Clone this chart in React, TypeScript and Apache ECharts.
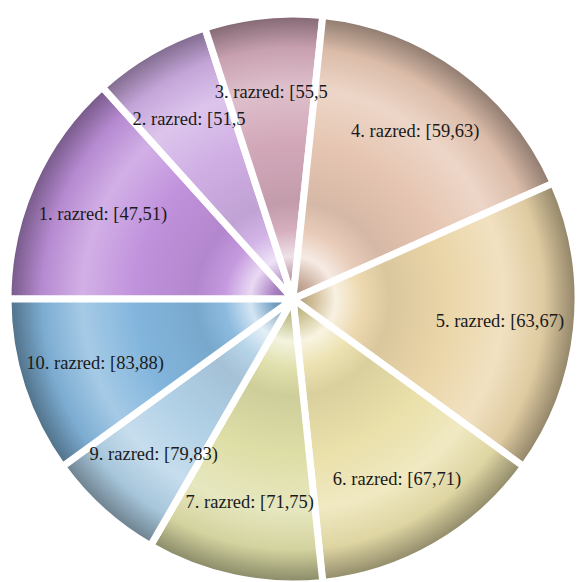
import React, { useEffect, useRef } from 'react';
import * as echarts from 'echarts';

const classLabels = [
  '1. razred: [47,51)',
  '2. razred: [51,55)',
  '3. razred: [55,59)',
  '4. razred: [59,63)',
  '5. razred: [63,67)',
  '6. razred: [67,71)',
  '7. razred: [71,75)',
  '8. razred: [75,79)',
  '9. razred: [79,83)',
  '10. razred: [83,88)',
];
const counts = [4, 2, 2, 5, 5, 4, 3, 0, 2, 3];
const baseColors = [
  '#c091dc',
  '#cfaee4',
  '#d2a8b9',
  '#e6c6b2',
  '#ebd6a9',
  '#eae0aa',
  '#dedea7',
  '#d6e2bc',
  '#b0d0e6',
  '#82b5dc',
];
// labels that are cut by the following slice in the reference
const clippedLabels = [1, 2];

function toRgb(hex: string): number[] {
  const h = hex.replace('#', '');
  return [0, 2, 4].map((i) => parseInt(h.slice(i, i + 2), 16));
}
function mix(hex: string, target: number[], t: number): string {
  const c = toRgb(hex);
  const m = c.map((v, i) => Math.round(v + (target[i] - v) * t));
  return `rgb(${m[0]},${m[1]},${m[2]})`;
}
const W = [255, 255, 255];
const K = [0, 0, 0];

const CX = 293;
const CY = 299;
const R = 285;

function glass(hex: string) {
  return {
    type: 'radial',
    x: CX,
    y: CY,
    r: R,
    global: true,
    colorStops: [
      { offset: 0, color: mix(hex, K, 0.3) },
      { offset: 0.07, color: mix(hex, K, 0.12) },
      { offset: 0.15, color: mix(hex, W, 0.65) },
      { offset: 0.24, color: mix(hex, W, 0.08) },
      { offset: 0.34, color: mix(hex, K, 0.07) },
      { offset: 0.55, color: hex },
      { offset: 0.74, color: mix(hex, W, 0.28) },
      { offset: 0.88, color: mix(hex, K, 0.05) },
      { offset: 1, color: mix(hex, K, 0.4) },
    ],
  };
}

export default function App() {
  const ref = useRef<HTMLDivElement>(null);
  useEffect(() => {
    if (!ref.current) return;
    const chart = echarts.init(ref.current, undefined, { renderer: 'svg' });
    const visData = counts.map((v, i) => ({
      name: classLabels[i],
      value: v,
      itemStyle: { color: glass(baseColors[i]) },
    }));
    const labelData = counts.map((v, i) => {
      const item: any = { name: classLabels[i], value: v };
      if (clippedLabels.includes(i)) {
        item.label = { width: 119, overflow: 'truncate', ellipsis: '' };
      }
      return item;
    });
    chart.setOption({
      animation: false,
      backgroundColor: '#ffffff',
      series: [
        {
          type: 'pie',
          center: [CX, CY],
          radius: [0, R],
          startAngle: 180,
          clockwise: true,
          silent: true,
          data: visData,
          label: { show: false },
          labelLine: { show: false },
          itemStyle: { borderColor: '#ffffff', borderWidth: 7 },
          emphasis: { disabled: true },
        },
        {
          type: 'pie',
          center: [CX, CY],
          radius: [125, R],
          startAngle: 180,
          clockwise: true,
          silent: true,
          minShowLabelAngle: 1,
          data: labelData,
          itemStyle: { color: 'rgba(0,0,0,0)', borderWidth: 0 },
          label: {
            show: true,
            position: 'inside',
            formatter: '{b}',
            color: '#1a1a1a',
            fontFamily: "'Liberation Serif', 'Times New Roman', serif",
            fontSize: 18.5,
          },
          labelLine: { show: false },
          emphasis: { disabled: true },
        },
      ],
    });
    return () => chart.dispose();
  }, []);
  return (
    <div
      ref={ref}
      style={{ position: 'absolute', left: 0, top: 0, width: 581, height: 582 }}
    />
  );
}
